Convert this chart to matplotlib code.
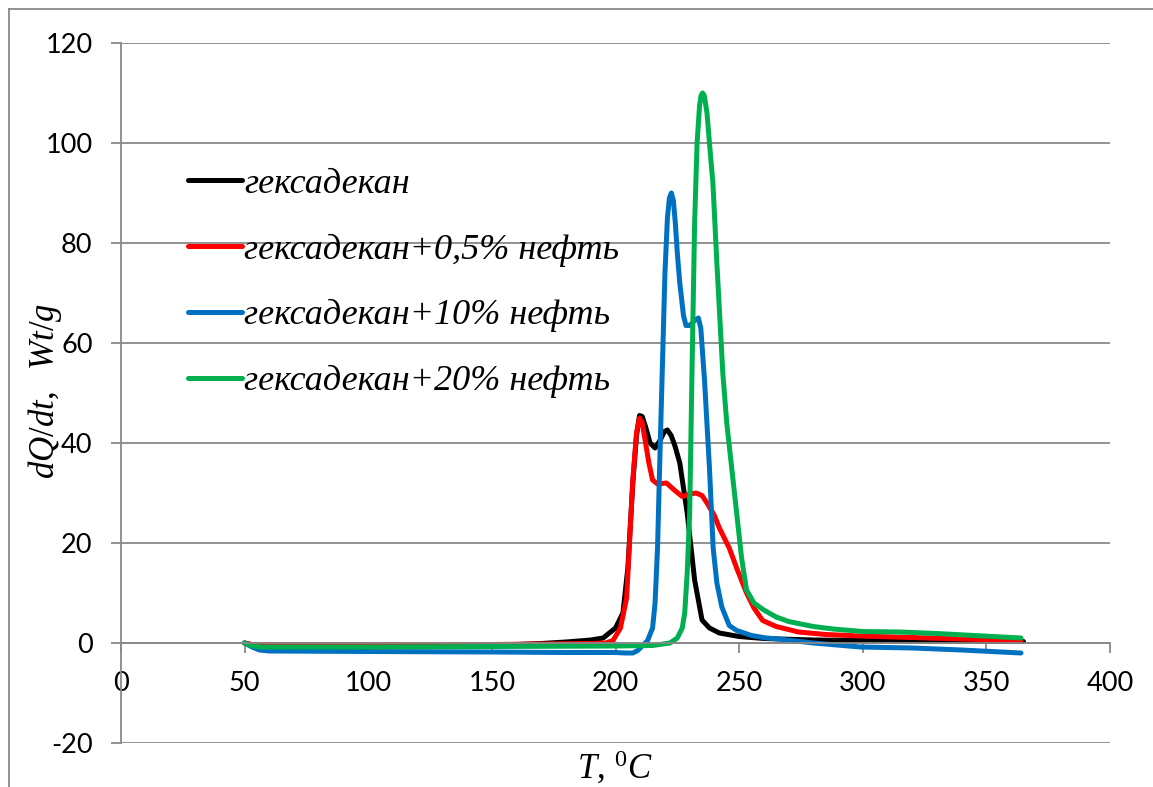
import matplotlib
matplotlib.use('Agg')
import matplotlib.pyplot as plt
from matplotlib.lines import Line2D

plt.rcParams['mathtext.fontset'] = 'custom'
plt.rcParams['mathtext.it'] = 'Liberation Serif:italic'
plt.rcParams['mathtext.rm'] = 'Liberation Serif'
plt.rcParams['axes.unicode_minus'] = False

# гексадекан
t_hex = [50, 53, 56, 60, 80, 100, 120, 140, 160, 170, 180, 190, 195, 200, 203, 205, 207, 208.5,
         209.7, 210.8, 212, 214, 216, 218, 219.8, 221, 222.5, 224, 226, 229, 232, 235, 238, 242,
         250, 260, 280, 300, 330, 365]
q_hex = [0, -0.4, -0.5, -0.4, -0.4, -0.4, -0.4, -0.4, -0.3, -0.1, 0.2, 0.6, 1, 3, 6, 15, 32, 41.5,
         45.5, 45.3, 43.5, 40, 39, 40.5, 42.3, 42.6, 41.5, 39.5, 36, 26, 12.6, 4.6, 3, 2,
         1.3, 0.9, 0.6, 0.5, 0.4, 0.3]

# гексадекан+0,5% нефть
t_05 = [50, 53, 60, 100, 150, 190, 196, 199, 202, 204.5, 207, 208.5, 209.7, 210.8, 212, 213.5,
        215, 217, 220.6, 224, 227, 230, 232.6, 235, 237, 240, 242, 246, 249, 253, 256, 259.5,
        265, 274, 285, 299, 320, 340, 364]
q_05 = [0, -0.3, -0.3, -0.3, -0.3, -0.1, 0, 0.5, 3, 9, 32.6, 42, 45, 44, 40.5, 36,
        32.6, 31.8, 32, 30.5, 29.3, 29.8, 30, 29.5, 28, 25.5, 23, 19, 15, 10, 7, 4.5,
        3.3, 2.2, 1.7, 1.4, 1.1, 0.8, 0.5]

# гексадекан+10% нефть
t_10 = [50, 53, 56, 60, 100, 150, 180, 200, 204, 207, 209, 211, 213, 215, 216, 217, 218, 219,
        220, 221, 221.8, 222.6, 223.4, 224.2, 225, 226, 227.5, 228.5, 230, 232, 233.5, 234.5,
        235.5, 236, 238, 239.5, 241, 243, 246, 249, 255, 261, 266, 280, 299, 320, 340, 364]
q_10 = [0, -0.8, -1.4, -1.6, -1.7, -1.8, -1.9, -1.9, -2, -2, -1.5, -0.5, 0.5, 3, 8, 19, 38, 56,
        74, 85, 89, 90, 88.5, 84, 78, 72, 65.5, 63.5, 63.5, 64.5, 65, 63,
        56, 52.6, 35, 19, 12, 7.2, 3.5, 2.5, 1.5, 1, 0.8, 0, -0.8, -1, -1.4, -2]

# гексадекан+20% нефть
t_20 = [50, 53, 57, 100, 150, 200, 215, 222, 225, 227, 228, 229, 230, 231, 232, 233, 234,
        234.6, 235.2, 235.9, 237, 238, 239.4, 241, 243.4, 245, 247, 249, 251, 253, 256, 260,
        265, 270, 280, 288, 300, 315, 330, 345, 364]
q_20 = [0, -0.6, -0.8, -0.8, -0.7, -0.6, -0.5, 0, 1, 3, 6, 14, 26, 56, 84, 100, 107.5,
        109.5, 110, 109.5, 106, 100, 92, 76, 54, 44, 35, 26, 17, 10.6, 8, 6.6,
        5.2, 4.3, 3.3, 2.8, 2.3, 2.2, 1.9, 1.5, 1.0]

labels = ['гексадекан', 'гексадекан+0,5% нефть', 'гексадекан+10% нефть', 'гексадекан+20% нефть']
colors = ['#000000', '#ff0000', '#0070c0', '#00b050']

fig = plt.figure(figsize=(11.53, 7.87), dpi=100)
ax = fig.add_axes([121 / 1153, 1 - 743 / 787, 989 / 1153, 700 / 787])

for t, q, lab, c in zip([t_hex, t_05, t_10, t_20], [q_hex, q_05, q_10, q_20], labels, colors):
    ax.plot(t, q, color=c, lw=3.6, label=lab, solid_capstyle='round', solid_joinstyle='round')

ax.set_xlim(0, 400)
ax.set_ylim(-20, 120)
ax.set_xticks(range(0, 401, 50))
ax.set_yticks(range(-20, 121, 20))
ax.grid(axis='y', color='#898989', lw=1.3)
ax.set_axisbelow(True)

for s in ['top', 'right']:
    ax.spines[s].set_visible(False)
ax.spines['bottom'].set_position(('data', 0))
for s in ['bottom', 'left']:
    ax.spines[s].set_color('#898989')
    ax.spines[s].set_linewidth(1.3)
ax.tick_params(axis='both', direction='out', length=7.5, width=1.3, color='#898989',
               labelsize=19.5, pad=13)
for lbl in ax.get_xticklabels() + ax.get_yticklabels():
    lbl.set_fontfamily('Lato')

leg = ax.legend(loc='upper left', bbox_to_anchor=(0.068, 0.822), frameon=False,
                prop={'family': 'Liberation Serif', 'style': 'italic', 'size': 26},
                handlelength=1.5, handletextpad=0.05, labelspacing=0.9,
                borderpad=0, borderaxespad=0)
for h in leg.get_lines():
    h.set_linewidth(3.6)

fig.text(45 / 1153, 1 - 391 / 787, r'$dQ/dt,\ \ Wt/g$', rotation=90, ha='center', va='center',
         fontsize=25)
fig.text(615 / 1153, 1 - 767 / 787, r'$T,\,^{0}C$', ha='center', va='center', fontsize=25)

# chart border
fig.add_artist(Line2D([9 / 1153, 9 / 1153], [0, 1 - 9 / 787], color='#898989', lw=1.3,
                      transform=fig.transFigure))
fig.add_artist(Line2D([9 / 1153, 1], [1 - 9 / 787, 1 - 9 / 787], color='#898989', lw=1.3,
                      transform=fig.transFigure))

fig.savefig('out.png', dpi=100)
